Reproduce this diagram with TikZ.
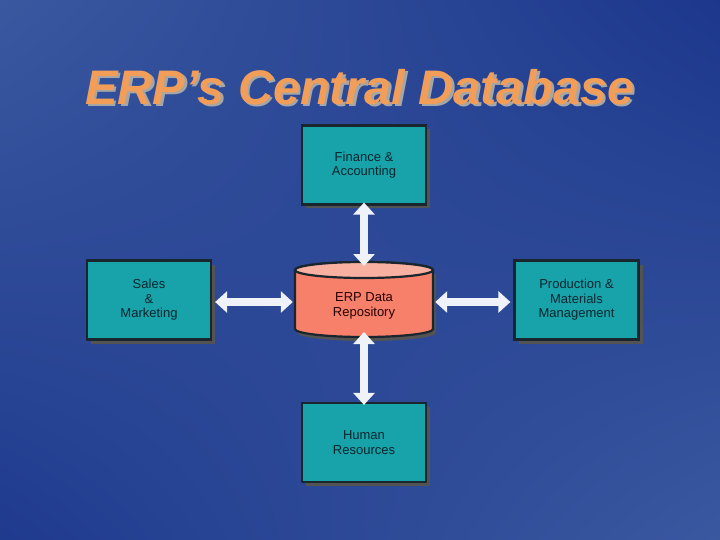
\documentclass[tikz,border=0pt]{standalone}
\usepackage{fontspec}
\setmainfont{Liberation Sans}
\usetikzlibrary{arrows.meta,shadings}
\definecolor{bgA}{RGB}{58,88,160}
\definecolor{bgB}{RGB}{28,55,140}
\definecolor{teal}{RGB}{24,162,170}
\definecolor{boxline}{RGB}{25,38,45}
\definecolor{boxtext}{RGB}{10,38,45}
\definecolor{titleor}{RGB}{242,158,88}
\definecolor{cylbody}{RGB}{246,128,106}
\definecolor{cyltop}{RGB}{248,176,160}
\definecolor{arrowc}{RGB}{240,242,250}
\tikzset{
  mod/.style={draw=boxline, line width=2.2pt, fill=teal, minimum width=124pt, minimum height=79pt,
    align=center, font=\fontsize{13}{14.5}\selectfont, text=boxtext, inner sep=0pt},
  dbl/.style={draw=arrowc, line width=8pt, {Triangle[length=12pt,width=21pt]}-{Triangle[length=12pt,width=21pt]}},
}
\begin{document}
\begin{tikzpicture}[x=1pt,y=-1pt]
\shade[upper left=bgA, upper right=bgB, lower left=bgB!90!bgA, lower right=bgA] (0,0) rectangle (720,540);
\useasboundingbox (0,0) rectangle (720,540);
% title
\node[text=gray!70, font=\fontsize{48.5}{52}\selectfont\bfseries\itshape] at (362.5,89.5) {ERP’s Central Database};
\node[text=titleor, font=\fontsize{48.5}{52}\selectfont\bfseries\itshape] (title) at (360,87) {ERP’s Central Database};
% shadows
\foreach \cx/\cy in {364/165, 149/300, 576.5/300, 364/442.5}
  \fill[gray!65!black] (\cx-62+4,\cy-39.5+4) rectangle (\cx+62+4,\cy+39.5+4);
% boxes
\node[mod] (fin) at (364,165) {Finance \&\\Accounting};
\node[mod] (sales) at (149,300) {Sales\\\&\\Marketing};
\node[mod] (prod) at (576.5,300) {Production \&\\Materials\\Management};
\node[mod] (hr) at (364,442.5) {Human\\Resources};
% cylinder
\fill[gray!65!black] (298,274) -- (298,333) arc[start angle=180,end angle=0,x radius=69,y radius=8] -- (436,274) -- cycle;
\draw[boxline, line width=2.2pt, fill=cylbody] (295,270) -- (295,329) arc[start angle=180,end angle=0,x radius=69,y radius=8] -- (433,270) arc[start angle=0,end angle=-180,x radius=69,y radius=8] -- cycle;
\draw[boxline, line width=2.2pt, fill=cyltop] (364,270) ellipse[x radius=69,y radius=8];
\node[inner sep=0pt, minimum width=138pt, minimum height=75pt, align=center,
  font=\fontsize{13}{14.5}\selectfont, text=black!85!red] (cyl) at (364,306) {ERP Data\\Repository};
\coordinate (cyltopc) at (364,262);
\coordinate (cylbot) at (364,337);
% connectors
\draw[dbl] ([yshift=3pt]fin.south) -- ([yshift=-4pt]cyltopc);
\draw[dbl] ([xshift=3pt,yshift=-2pt]sales.east) -- ([xshift=-2pt,yshift=-2pt]sales.east -| cyl.west);
\draw[dbl] ([xshift=2pt,yshift=-2pt]prod.west -| cyl.east) -- ([xshift=-3pt,yshift=-2pt]prod.west);
\draw[dbl] ([yshift=5pt]cylbot) -- ([yshift=-3pt]hr.north);
\end{tikzpicture}
\end{document}
